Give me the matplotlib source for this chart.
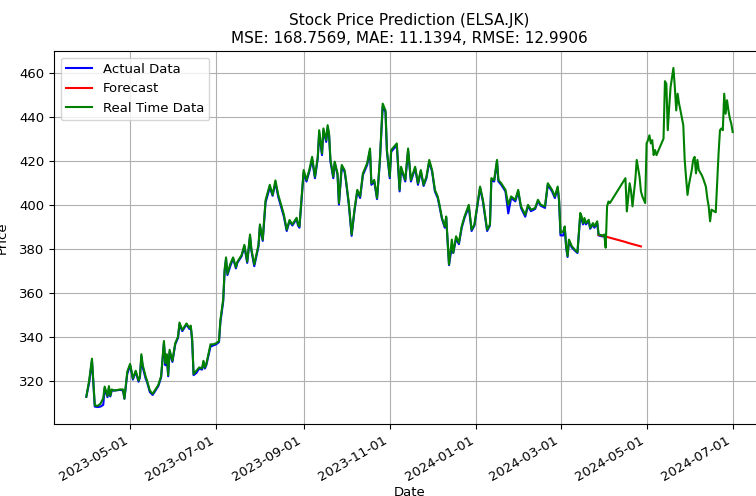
import matplotlib
matplotlib.use("Agg")
import matplotlib.pyplot as plt
import matplotlib.dates as mdates
import pandas as pd

# historical period (actual data + real time data overlap)
hist_dates = [
    "2023-03-31", "2023-04-02", "2023-04-04", "2023-04-06", "2023-04-08", "2023-04-10",
    "2023-04-12", "2023-04-13", "2023-04-15", "2023-04-16", "2023-04-17", "2023-04-18",
    "2023-04-20", "2023-04-24", "2023-04-26", "2023-04-27", "2023-04-29",
    "2023-05-01", "2023-05-02", "2023-05-03", "2023-05-05", "2023-05-07", "2023-05-08",
    "2023-05-09", "2023-05-10", "2023-05-12", "2023-05-13", "2023-05-15", "2023-05-17",
    "2023-05-19", "2023-05-21", "2023-05-23", "2023-05-25", "2023-05-26", "2023-05-27",
    "2023-05-28", "2023-05-29", "2023-05-31",
    "2023-06-01", "2023-06-02", "2023-06-04", "2023-06-05", "2023-06-07", "2023-06-09",
    "2023-06-10", "2023-06-12", "2023-06-13", "2023-06-14", "2023-06-15", "2023-06-17",
    "2023-06-19", "2023-06-21", "2023-06-22", "2023-06-23", "2023-06-24", "2023-06-27",
    "2023-06-29",
    "2023-07-01", "2023-07-03", "2023-07-04", "2023-07-06", "2023-07-07", "2023-07-08",
    "2023-07-09", "2023-07-11", "2023-07-13", "2023-07-15", "2023-07-16", "2023-07-19",
    "2023-07-21", "2023-07-23", "2023-07-25", "2023-07-26", "2023-07-28", "2023-07-31",
    "2023-08-01", "2023-08-03", "2023-08-05", "2023-08-07", "2023-08-08", "2023-08-10",
    "2023-08-12", "2023-08-14", "2023-08-16", "2023-08-18", "2023-08-20", "2023-08-22",
    "2023-08-24", "2023-08-27", "2023-08-28", "2023-08-29",
    "2023-09-01", "2023-09-03", "2023-09-05", "2023-09-07", "2023-09-09", "2023-09-11",
    "2023-09-12", "2023-09-14", "2023-09-15", "2023-09-17", "2023-09-18", "2023-09-19",
    "2023-09-20", "2023-09-22", "2023-09-23", "2023-09-25", "2023-09-26", "2023-09-28",
    "2023-09-30",
    "2023-10-01", "2023-10-03", "2023-10-05", "2023-10-07", "2023-10-09", "2023-10-11",
    "2023-10-13", "2023-10-16", "2023-10-18", "2023-10-19", "2023-10-21", "2023-10-23",
    "2023-10-25", "2023-10-27", "2023-10-29", "2023-10-30",
    "2023-11-01", "2023-11-02", "2023-11-04", "2023-11-06", "2023-11-08", "2023-11-09",
    "2023-11-12", "2023-11-14", "2023-11-16", "2023-11-19", "2023-11-21", "2023-11-23",
    "2023-11-25", "2023-11-27", "2023-11-29",
    "2023-12-01", "2023-12-03", "2023-12-05", "2023-12-06", "2023-12-08", "2023-12-10",
    "2023-12-11", "2023-12-13", "2023-12-15", "2023-12-16", "2023-12-18", "2023-12-20",
    "2023-12-22", "2023-12-24", "2023-12-27", "2023-12-29", "2023-12-31",
    "2024-01-04", "2024-01-06", "2024-01-09", "2024-01-11", "2024-01-12", "2024-01-14",
    "2024-01-16", "2024-01-17", "2024-01-19", "2024-01-22", "2024-01-24", "2024-01-26",
    "2024-01-29", "2024-01-31",
    "2024-02-02", "2024-02-05", "2024-02-07", "2024-02-09", "2024-02-12", "2024-02-14",
    "2024-02-16", "2024-02-19", "2024-02-21", "2024-02-24", "2024-02-26", "2024-02-28",
    "2024-02-29",
    "2024-03-01", "2024-03-03", "2024-03-04", "2024-03-05", "2024-03-06", "2024-03-07",
    "2024-03-09", "2024-03-11", "2024-03-13", "2024-03-15", "2024-03-16", "2024-03-17",
    "2024-03-18", "2024-03-19", "2024-03-21", "2024-03-22", "2024-03-24", "2024-03-25",
    "2024-03-27", "2024-03-28", "2024-03-31",
]

real_hist = [
    312.7, 320, 330, 308.8, 308.5, 309.5,
    312, 317.3, 313, 317.5, 313.2, 316,
    315.5, 316, 316, 311.8, 324,
    327.6, 324.5, 321, 324.5, 320, 322,
    332, 327, 322, 320, 315.5, 314,
    316, 318, 322, 338, 328, 332,
    322.5, 334, 329,
    333, 337, 340, 346.4, 343, 345,
    346, 344, 345, 339, 323, 324.5,
    326, 325.5, 329, 326, 327.5, 336.5,
    336.5,
    337, 338, 347.5, 357, 370.6, 376,
    368.5, 373, 376, 371.5, 374, 377,
    381.7, 374, 386.4, 379.6, 372.8, 381.7,
    391, 384, 402, 406.7, 409, 404.4,
    411, 404.4, 400, 395.4, 388.6, 393,
    391, 394, 391, 390.1,
    415.7, 411.2, 415.7, 421.7, 412.7, 421.7,
    433.8, 423.3, 434.6, 429.3, 436.1, 432.3,
    420.3, 412.7, 419.5, 414.2, 400.7, 418,
    415.7,
    411.2, 400.7, 386.4, 397.7, 406.7, 403.7,
    414.2, 418.8, 425.5, 409.7, 411.2, 403,
    420.3, 445.9, 442.8, 424.8,
    412.7, 424.8, 426.3, 427.8, 406.7, 417.2,
    411.2, 425.5, 411.2, 417.2, 409.7, 415.7,
    409, 412.7, 420.3,
    415.7, 406.7, 403.7, 400.7, 393.9, 390.1,
    394.6, 372.8, 384.1, 378.1, 385.6, 382.6,
    390.1, 394.6, 399.9, 388.6, 390.9,
    408.2, 402.2, 388.6, 390.9, 412, 411.2,
    420.3, 411.2, 409.7, 406.7, 399.9, 403.7,
    402.2, 406.7,
    399.2, 395.4, 399.9, 397.7, 398.4, 402.2,
    399.9, 399.2, 409.7, 406.7, 403.7, 408.2,
    402.2,
    387.1, 387.9, 390.1, 381.1, 376.6, 384.1,
    381.1, 379.6, 378.4, 396.2, 394.6, 391.6,
    393.9, 391.6, 393.1, 389.4, 391.6, 390.1,
    392.4, 386.4, 385.9,
]

actual_hist = [
    312.7, 319, 329, 308.2, 308.0, 308.2,
    309, 316.5, 312.5, 316.5, 312.8, 315.5,
    315.5, 315.8, 315.5, 311.8, 323,
    327, 324, 320.5, 324, 319.5, 321.5,
    331, 326, 321, 319.5, 314.8, 313.5,
    315.5, 317.5, 321.5, 337, 327, 331,
    322, 333, 328.5,
    332.5, 336.5, 339.5, 345.5, 342.5, 344.5,
    345.5, 343.5, 344.5, 338, 322.5, 323.5,
    325.5, 325, 328.5, 325.5, 327, 335.5,
    336,
    336.5, 337.5, 346.5, 356, 369.5, 375,
    368, 372, 375.5, 371, 373.5, 376.5,
    381, 373.5, 385.5, 379, 372, 381,
    390, 383.5, 401, 405.5, 408, 404,
    410, 403.5, 399, 394.5, 388, 392.5,
    390.5, 393.5, 390.5, 389.5,
    414.5, 410.5, 415, 420.5, 412, 421,
    432.5, 422.5, 433.5, 428.5, 435, 431.5,
    419.5, 412, 419, 413.5, 400, 417,
    415,
    410.5, 400, 385.8, 397, 406, 403,
    413.5, 418, 424.5, 409, 410.5, 402.5,
    419.5, 444.5, 442, 424,
    412, 424, 425.5, 427, 406, 416.5,
    410.5, 424.5, 410.5, 416.5, 409, 415,
    408.5, 412, 419.5,
    415, 406, 403, 400, 393.5, 389.5,
    394, 372.5, 381, 378, 384.5, 382,
    389.5, 394, 399, 388, 390.5,
    407.5, 401.5, 388, 390.5, 411, 410.5,
    419.5, 410.5, 409, 406, 396, 403,
    401.5, 406,
    398.5, 394.5, 399.5, 397, 398, 401.5,
    399.5, 398.5, 409, 406, 403, 407.5,
    401.5,
    386, 386, 389.5, 380.5, 376.2, 383.5,
    380.5, 379.2, 378, 395, 393, 391,
    393, 391, 392.5, 389, 391, 389.5,
    391.5, 386, 385.5,
]

# real time data after the historical period
new_dates = [
    "2024-04-01", "2024-04-02", "2024-04-03", "2024-04-04", "2024-04-05", "2024-04-16",
    "2024-04-17", "2024-04-19", "2024-04-20", "2024-04-21", "2024-04-23", "2024-04-24",
    "2024-04-26", "2024-04-27", "2024-04-28", "2024-04-30",
    "2024-05-01", "2024-05-02", "2024-05-03", "2024-05-04", "2024-05-05", "2024-05-06",
    "2024-05-07", "2024-05-08", "2024-05-13", "2024-05-14", "2024-05-15", "2024-05-16",
    "2024-05-17", "2024-05-18", "2024-05-19", "2024-05-20", "2024-05-21", "2024-05-22",
    "2024-05-23", "2024-05-24", "2024-05-25", "2024-05-27", "2024-05-28", "2024-05-29",
    "2024-05-30", "2024-05-31",
    "2024-06-02", "2024-06-03", "2024-06-04", "2024-06-05", "2024-06-06", "2024-06-07",
    "2024-06-09", "2024-06-10", "2024-06-12", "2024-06-13", "2024-06-14", "2024-06-15",
    "2024-06-16", "2024-06-19", "2024-06-21", "2024-06-22", "2024-06-23", "2024-06-24",
    "2024-06-25", "2024-06-26", "2024-06-27", "2024-06-28", "2024-06-29", "2024-06-30",
    "2024-07-01",
]
real_new = [
    386.4, 380.4, 399.2, 401.4, 400.7, 412,
    396.9, 409.7, 406, 399.2, 411.2, 420.3,
    412.7, 406, 403.7, 400.7,
    427.8, 429.3, 431.5, 427.8, 429.3, 422.5,
    424.8, 422.5, 430, 456.1, 454.9, 433.8,
    444.3, 453.4, 457.9, 462.1, 453.4, 442.8,
    450.4, 445.9, 442.8, 436.1, 420.3, 412,
    404.4, 409,
    415.7, 420.3, 421.7, 414.2, 420.3, 415.7,
    413.5, 412, 408.2, 403, 399.2, 392.4,
    397.7, 396.5, 423.3, 433.8, 434.6, 433.8,
    450.4, 441.3, 447.4, 442.8, 439.1, 436.8,
    433,
]

fc_dates = ["2024-03-28", "2024-03-31", "2024-04-03", "2024-04-07", "2024-04-11",
            "2024-04-15", "2024-04-19", "2024-04-23", "2024-04-27"]
fc_vals = [386.2, 385.9, 385.3, 384.6, 383.9, 383.2, 382.4, 381.7, 381.0]

hist_dt = pd.to_datetime(hist_dates)
all_dt = pd.to_datetime(hist_dates + new_dates)
fc_dt = pd.to_datetime(fc_dates)

fig = plt.figure(figsize=(7.56, 4.96), dpi=100)
ax = fig.add_axes([54/756, 72/496, 711/756, 373/496])

ax.plot(hist_dt, actual_hist, color="blue", lw=1.5, label="Actual Data")
ax.plot(fc_dt, fc_vals, color="red", lw=1.5, label="Forecast")
ax.plot(all_dt, real_hist + real_new, color="green", lw=1.5, label="Real Time Data")

ax.set_title("Stock Price Prediction (ELSA.JK)\nMSE: 168.7569, MAE: 11.1394, RMSE: 12.9906", fontsize=11)
ax.set_xlabel("Date", fontsize=9.5, labelpad=2)
ax.set_ylabel("Price", fontsize=9.5, labelpad=7)
ax.grid(True)
ax.legend(loc="upper left", fontsize=9.5)

ax.xaxis.set_major_locator(mdates.MonthLocator(bymonth=[1, 3, 5, 7, 9, 11]))
ax.xaxis.set_major_formatter(mdates.DateFormatter("%Y-%m-%d"))
ax.tick_params(labelsize=9.5)
plt.setp(ax.get_xticklabels(), rotation=30, ha="right")

fig.savefig("out.png", dpi=100)
